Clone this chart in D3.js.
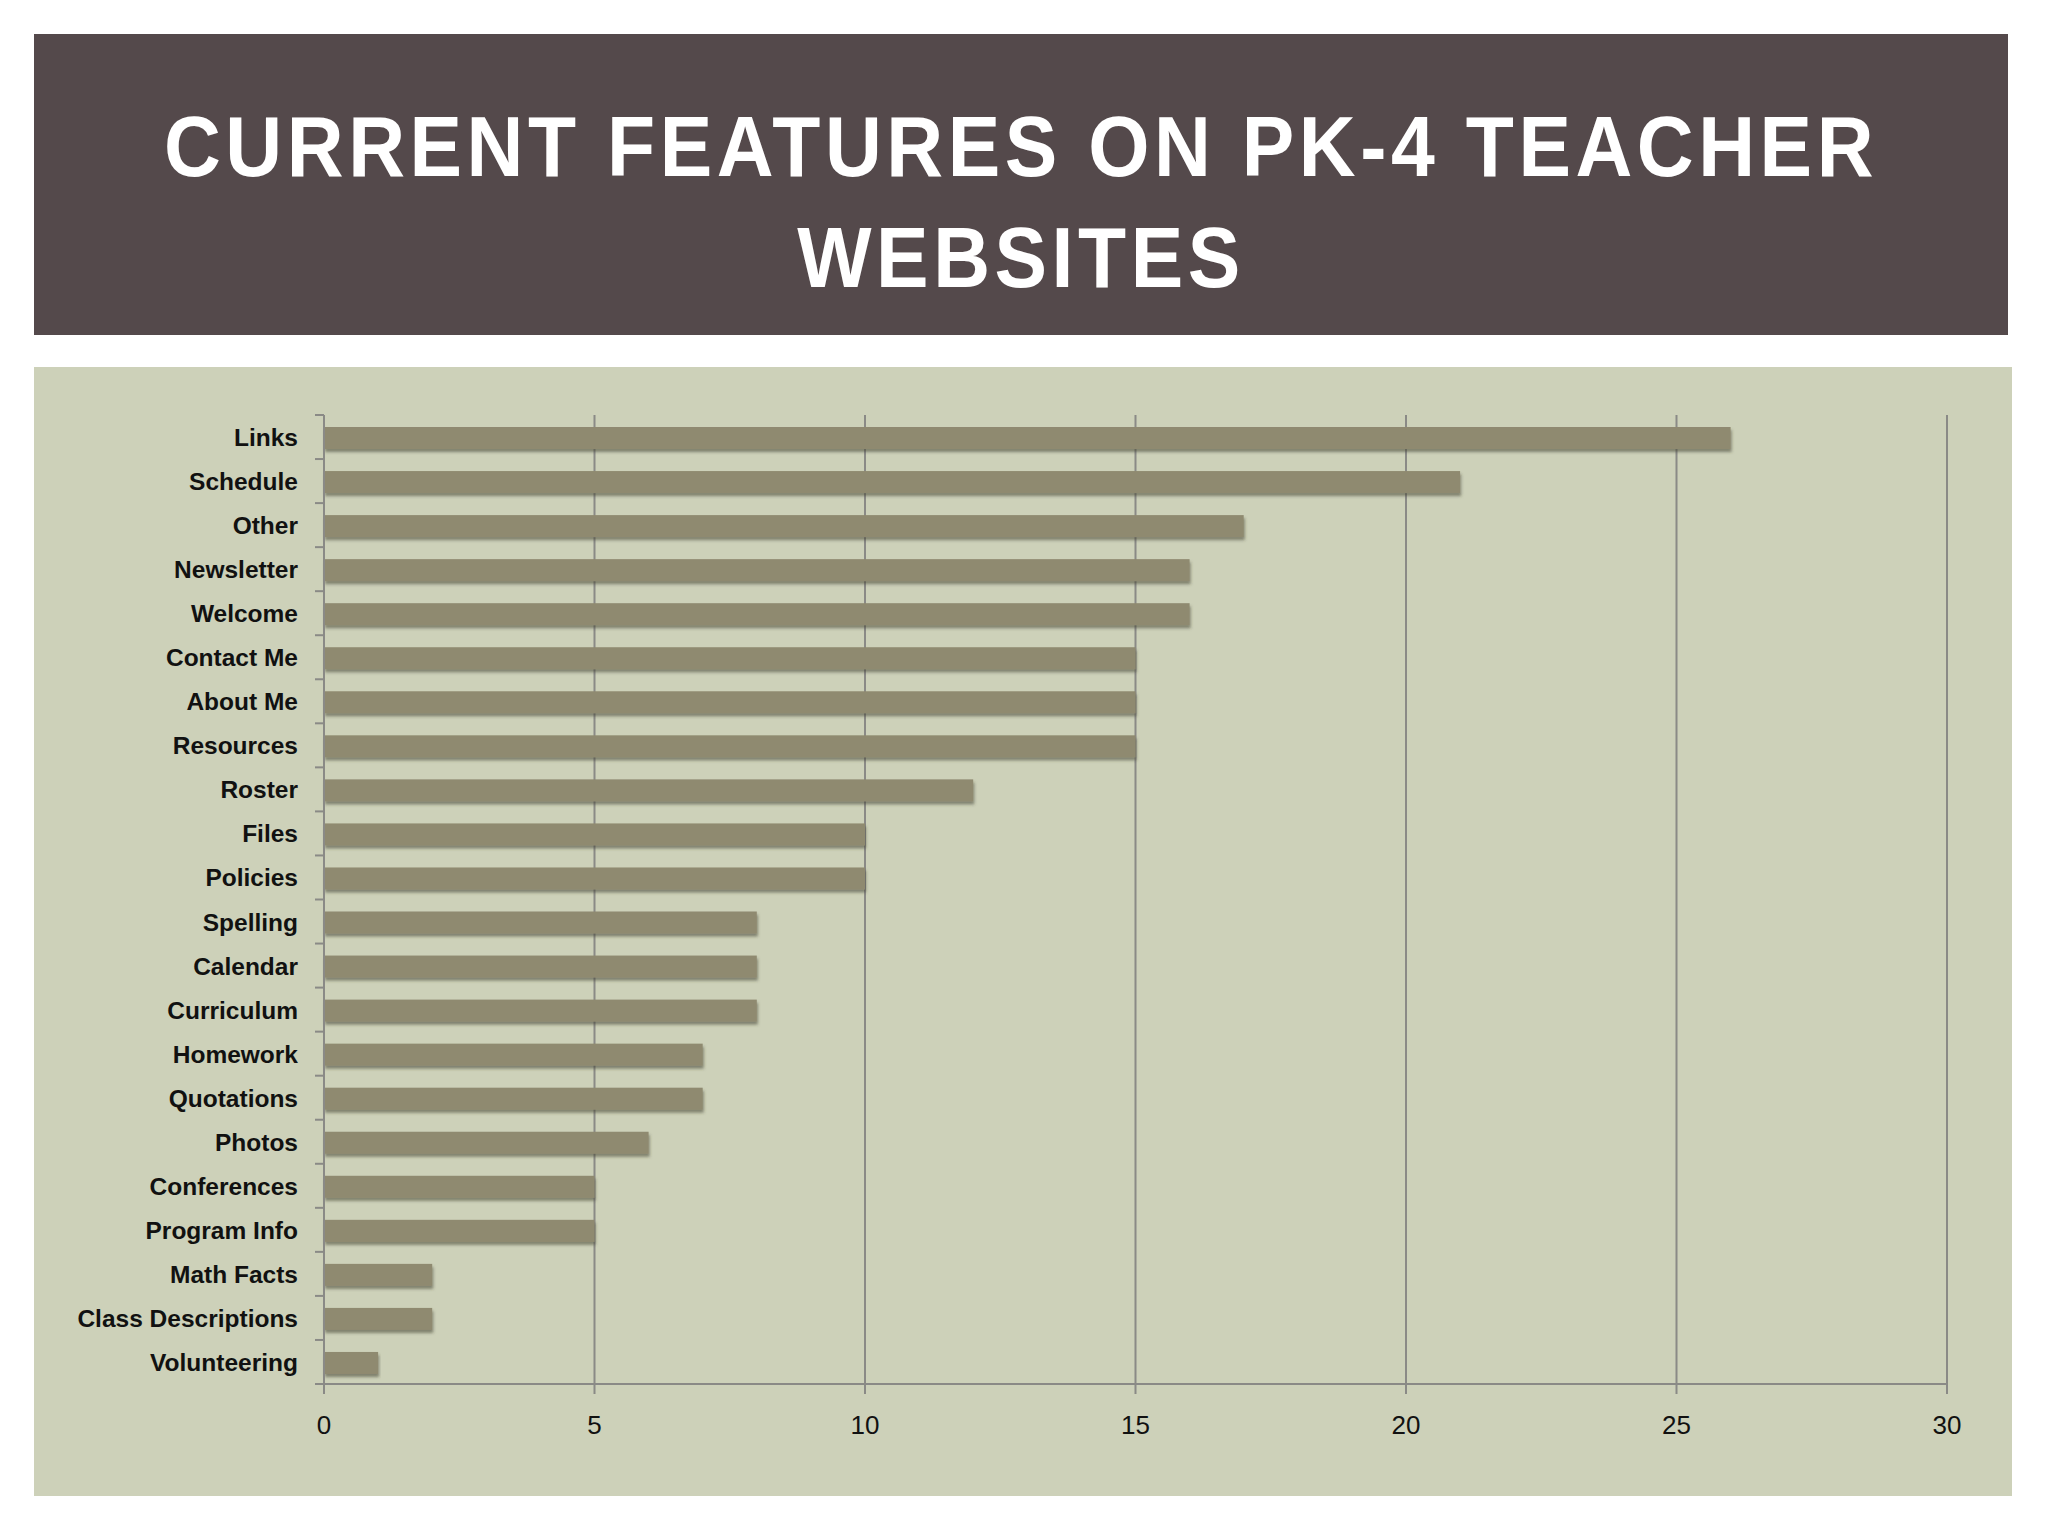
<!DOCTYPE html>
<html lang="en">
<head>
    <meta charset="UTF-8">
    <title>Current Features on PK-4 Teacher Websites</title>
    <script src="https://d3js.org/d3.v7.min.js"></script>
    <style>
        body { margin: 0; background: #fff; }
        .title { fill: #fff; font-family: "Liberation Sans", sans-serif; font-weight: bold; letter-spacing: 5px; }
        .cat { font-family: "Liberation Sans", Arial, sans-serif; font-weight: bold; fill: #111; }
        .tick-x { font-family: "Liberation Sans", Arial, sans-serif; fill: #111; }
        .bar { fill: #8f8a70; }
    </style>
</head>
<body>
<svg></svg>
<script>
    // Data
    const categories = ["Links", "Schedule", "Other", "Newsletter", "Welcome", "Contact Me", "About Me",
        "Resources", "Roster", "Files", "Policies", "Spelling", "Calendar", "Curriculum", "Homework",
        "Quotations", "Photos", "Conferences", "Program Info", "Math Facts", "Class Descriptions", "Volunteering"];
    const counts = [26, 21, 17, 16, 16, 15, 15, 15, 12, 10, 10, 8, 8, 8, 7, 7, 6, 5, 5, 2, 2, 1];
    const xTicks = [0, 5, 10, 15, 20, 25, 30];
    const titleLines = ["CURRENT FEATURES ON PK-4 TEACHER", "WEBSITES"];

    const W = 2048, H = 1536;
    const svg = d3.select("svg").attr("width", W).attr("height", H);

    // drop shadow for bars
    const defs = svg.append("defs");
    const f = defs.append("filter").attr("id", "shadow")
        .attr("x", "-5%").attr("y", "-50%").attr("width", "110%").attr("height", "220%");
    f.append("feDropShadow").attr("dx", 1).attr("dy", 3).attr("stdDeviation", 1.5)
        .attr("flood-color", "#3e3d30").attr("flood-opacity", 0.55);

    // title banner
    svg.append("rect").attr("x", 34).attr("y", 34).attr("width", 1974).attr("height", 301).attr("fill", "#54494b");
    // the slide font is narrower, so squeeze horizontally around the centre
    svg.append("g")
        .attr("transform", "translate(1021,0) scale(0.915,1)")
        .selectAll(".title").data(titleLines).enter().append("text")
        .attr("class", "title")
        .attr("x", 0)
        .attr("y", (d, i) => 176 + i * 111)
        .attr("text-anchor", "middle")
        .attr("font-size", 86)
        .text(d => d);

    // chart panel
    svg.append("rect").attr("x", 34).attr("y", 367).attr("width", 1978).attr("height", 1129).attr("fill", "#cdd1b9");

    const plot = { left: 324, right: 1947, top: 415, bottom: 1384 };

    const x = d3.scaleLinear().domain([0, 30]).range([plot.left, plot.right]);
    const y = d3.scaleBand().domain(categories).range([plot.top, plot.bottom]).paddingInner(0.5).paddingOuter(0.25);
    const yOuter = d3.scaleBand().domain(categories).range([plot.top, plot.bottom]);

    const g = svg.append("g");

    // vertical gridlines
    g.selectAll(".grid").data(xTicks.slice(1)).enter().append("line")
        .attr("x1", d => x(d)).attr("x2", d => x(d))
        .attr("y1", plot.top).attr("y2", plot.bottom + 10)
        .attr("stroke", "#8a8a86").attr("stroke-width", 2);

    // bars
    g.selectAll(".bar").data(categories).enter().append("rect")
        .attr("class", "bar")
        .attr("x", x(0))
        .attr("y", d => y(d) + 1)
        .attr("width", (d, i) => x(counts[i]) - x(0))
        .attr("height", y.bandwidth())
        .attr("filter", "url(#shadow)");

    // y axis line and ticks
    g.append("line").attr("x1", x(0)).attr("x2", x(0)).attr("y1", plot.top).attr("y2", plot.bottom + 10)
        .attr("stroke", "#8a8a86").attr("stroke-width", 2);
    const bounds = categories.map(c => yOuter(c)).concat([plot.bottom]);
    g.selectAll(".ytick").data(bounds).enter().append("line")
        .attr("x1", x(0) - 9).attr("x2", x(0))
        .attr("y1", d => d).attr("y2", d => d)
        .attr("stroke", "#8a8a86").attr("stroke-width", 2);

    // x axis line
    g.append("line").attr("x1", x(0) - 9).attr("x2", x(30)).attr("y1", plot.bottom).attr("y2", plot.bottom)
        .attr("stroke", "#8a8a86").attr("stroke-width", 2);

    // category labels
    g.selectAll(".cat").data(categories).enter().append("text")
        .attr("class", "cat")
        .attr("x", x(0) - 26)
        .attr("y", d => yOuter(d) + yOuter.bandwidth() / 2 + 9)
        .attr("text-anchor", "end")
        .attr("font-size", 24.5)
        .text(d => d);

    // x tick labels
    g.selectAll(".tick-x").data(xTicks).enter().append("text")
        .attr("class", "tick-x")
        .attr("x", d => x(d))
        .attr("y", 1434)
        .attr("text-anchor", "middle")
        .attr("font-size", 26)
        .text(d => d);
</script>
</body>
</html>
